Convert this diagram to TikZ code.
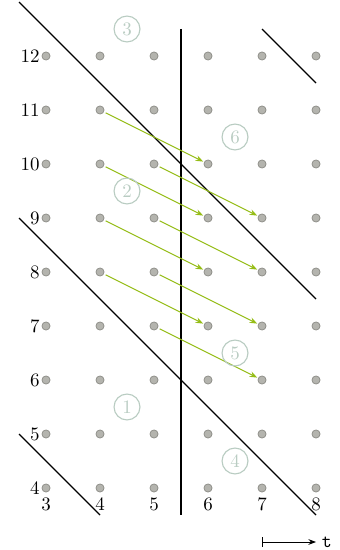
\documentclass[tikz,border=0pt]{standalone}
\usetikzlibrary{arrows.meta}
\definecolor{dotfill}{HTML}{B4B4AE}
\definecolor{dotdraw}{HTML}{8E8E88}
\definecolor{arrgreen}{HTML}{94BC14}
\definecolor{regcol}{HTML}{B9CCC2}
\tikzset{
  pt/.style={circle,fill=dotfill,draw=dotdraw,line width=0.4pt,minimum size=0.15cm,inner sep=0pt},
  bound/.style={line width=0.7pt,black},
  dep/.style={arrgreen,line width=0.5pt,-{Stealth[length=4pt,width=3pt]},shorten <=1pt,shorten >=0.5pt},
  region/.style={circle,draw=regcol,text=regcol,line width=0.6pt,minimum size=0.48cm,inner sep=0pt},
  lab/.style={inner sep=0pt}
}
\begin{document}
\begin{tikzpicture}
\useasboundingbox (2.148,2.852) rectangle (8.426,13.037);
% grid points
\foreach \x in {3,...,8}{
  \foreach \y in {4,...,12}{
    \node[pt] (p\x-\y) at (\x,\y) {};
  }
}
% labels
\foreach \y in {4,...,12}{
  \node[lab,anchor=east] (ly\y) at (2.89,\y) {\y};
}
\foreach \x in {3,...,8}{
  \node[lab,anchor=north] (lx\x) at (\x,3.82) {\x};
}
% boundary lines
\coordinate (a1) at (2.5,13);  \coordinate (a2) at (8,7.5);
\coordinate (b1) at (2.5,9);   \coordinate (b2) at (8,3.5);
\coordinate (c1) at (2.5,5);   \coordinate (c2) at (4,3.5);
\coordinate (d1) at (7,12.5);  \coordinate (d2) at (8,11.5);
\coordinate (v1) at (5.5,12.5); \coordinate (v2) at (5.5,3.5);
\draw[bound] (a1) -- (a2);
\draw[bound] (b1) -- (b2);
\draw[bound] (c1) -- (c2);
\draw[bound] (d1) -- (d2);
\draw[bound,line width=0.8pt] (v1) -- (v2);
% dependences
\draw[dep] (p4-11) -- (p6-10);
\draw[dep] (p5-10) -- (p7-9);
\draw[dep] (p4-10) -- (p6-9);
\draw[dep] (p5-9) -- (p7-8);
\draw[dep] (p4-9) -- (p6-8);
\draw[dep] (p5-8) -- (p7-7);
\draw[dep] (p4-8) -- (p6-7);
\draw[dep] (p5-7) -- (p7-6);
% regions
\node[region] (r3) at (4.5,12.5) {3};
\node[region] (r6) at (6.5,10.5) {6};
\node[region] (r2) at (4.5,9.5) {2};
\node[region] (r5) at (6.5,6.5) {5};
\node[region] (r1) at (4.5,5.5) {1};
\node[region] (r4) at (6.5,4.5) {4};
% legend
\coordinate (t1) at (7,3);
\node[lab,anchor=west] (tl) at (8.1,3) {\texttt{t}};
\draw[line width=0.5pt,{Bar[width=5pt]}-{Stealth[length=4pt,width=3pt]}] (t1) -- (8,3);
\end{tikzpicture}
\end{document}
